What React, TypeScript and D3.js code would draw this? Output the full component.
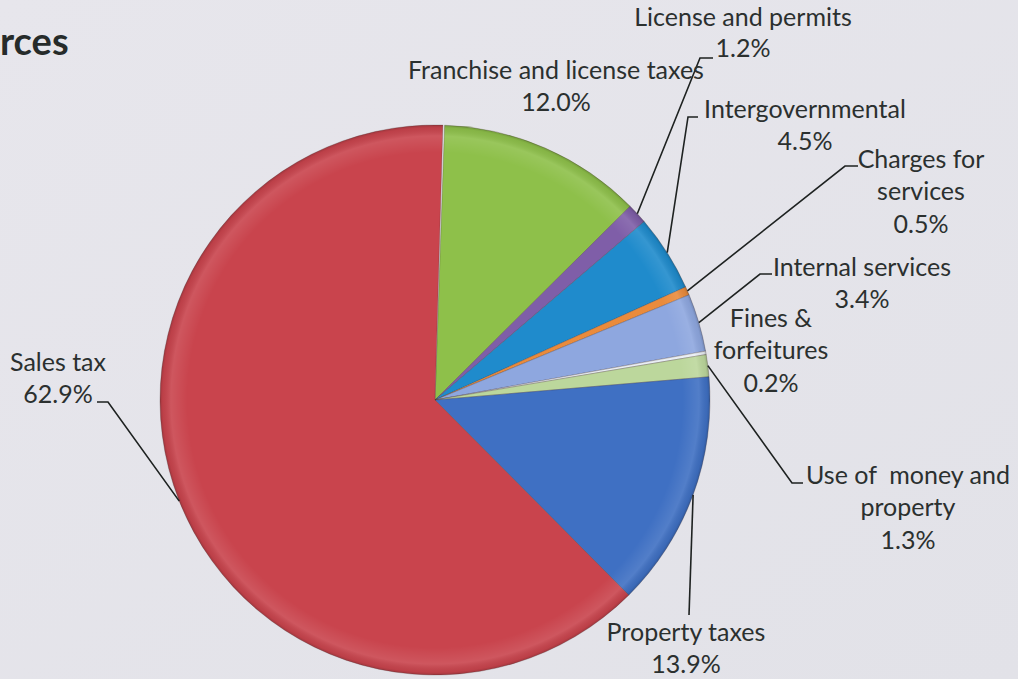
import React from "react";
import * as d3 from "d3";

const categories = [
  "Franchise and license taxes",
  "License and permits",
  "Intergovernmental",
  "Charges for services",
  "Internal services",
  "Fines & forfeitures",
  "Use of money and property",
  "Property taxes",
  "Sales tax",
];
const shares = [12.0, 1.2, 4.5, 0.5, 3.4, 0.2, 1.3, 13.9, 62.9];
const labelLines = [
  ["Franchise and license taxes", "12.0%"],
  ["License and permits", "1.2%"],
  ["Intergovernmental", "4.5%"],
  ["Charges for", "services", "0.5%"],
  ["Internal services", "3.4%"],
  ["Fines &", "forfeitures", "0.2%"],
  ["Use of  money and", "property", "1.3%"],
  ["Property taxes", "13.9%"],
  ["Sales tax", "62.9%"],
];
const titleText = "rces";

// layout (positions / styles only)
const colors = ["#8ec04a", "#7f5ea8", "#1f8bcc", "#ea8b3c", "#8ea7df", "#e9eef4", "#bcd79c", "#3f70c3", "#c9444d"];
const labelPos: { cx: number; y: number; gap?: number[]; leader?: [number, number][] }[] = [
  { cx: 556, y: 79 },
  { cx: 743, y: 26, gap: [0, 31], leader: [[700, 58], [713, 58]] },
  { cx: 805, y: 118, leader: [[688, 117], [698, 117]] },
  { cx: 921, y: 168, leader: [[845, 166], [858, 166]] },
  { cx: 862, y: 276, leader: [[760, 274], [772, 274]] },
  { cx: 771, y: 327 },
  { cx: 908, y: 484, leader: [[792, 483], [803, 483]] },
  { cx: 686, y: 641, leader: [[689, 615]] },
  { cx: 58, y: 371, leader: [[108, 402], [97, 402]] },
];

const W = 1018, H = 679;
const CX = 435, CY = 400, R = 275;
const START = (2 * Math.PI) / 180;

export default function App() {
  const total = shares.reduce((a, b) => a + b, 0);
  const pie = d3
    .pie<number>()
    .sort(null)
    .value((d) => d)
    .startAngle(START)
    .endAngle(START + 2 * Math.PI * (total / 100));
  const arcs = pie(shares);
  const arc = d3.arc<d3.PieArcDatum<number>>().innerRadius(0).outerRadius(R);
  const lineGen = d3.line();
  const fontFamily = "Lato, 'Open Sans', sans-serif";
  return (
    <svg width={W} height={H} style={{ position: "absolute", left: 0, top: 0 }} fontFamily={fontFamily}>
      <defs>
        <linearGradient id="bg" x1="0" y1="0" x2="1" y2="1">
          <stop offset="0" stopColor="#e7e6ec" />
          <stop offset="1" stopColor="#e2e2e8" />
        </linearGradient>
        <radialGradient id="bevel" cx={0} cy={0} r={R} gradientUnits="userSpaceOnUse">
          <stop offset="0" stopColor="#ffffff" stopOpacity="0" />
          <stop offset="0.9" stopColor="#ffffff" stopOpacity="0" />
          <stop offset="0.96" stopColor="#ffffff" stopOpacity="0.1" />
          <stop offset="0.99" stopColor="#000000" stopOpacity="0.06" />
          <stop offset="1" stopColor="#000000" stopOpacity="0.2" />
        </radialGradient>
      </defs>
      <rect x={0} y={0} width={W} height={H} fill="url(#bg)" />
      <text x={0} y={55} fontSize={38} fontWeight={700} fill="#262b2a">{titleText}</text>
      <g transform={`translate(${CX},${CY})`}>
        {arcs.map((a, i) => (
          <path key={categories[i]} d={arc(a) || ""} fill={colors[i]} stroke="rgba(70,50,50,0.35)" strokeWidth={0.8} />
        ))}
        {arcs.map((a, i) => (
          <path key={"b" + i} d={arc(a) || ""} fill="url(#bevel)" />
        ))}
      </g>
      <g>
        {arcs.map((a, i) => {
          const lp = labelPos[i];
          if (!lp.leader) return null;
          const mid = (a.startAngle + a.endAngle) / 2;
          const sx = CX + R * Math.sin(mid);
          const sy = CY - R * Math.cos(mid);
          const pts: [number, number][] = [[sx, sy], ...lp.leader];
          return <path key={"l" + i} d={lineGen(pts) || ""} fill="none" stroke="#1e2221" strokeWidth={1.6} />;
        })}
      </g>
      <g fill="#2b302f" fontSize={25} textAnchor="middle">
        {labelLines.map((lines, i) => {
          const lp = labelPos[i];
          return (
            <text key={"t" + i} x={lp.cx} y={lp.y} style={{ whiteSpace: "pre" }}>
              {lines.map((ln, j) => (
                <tspan key={j} x={lp.cx} y={lp.y + (lp.gap ? lp.gap[j] ?? j * 32 : j * 32.3)}>
                  {ln}
                </tspan>
              ))}
            </text>
          );
        })}
      </g>
    </svg>
  );
}
